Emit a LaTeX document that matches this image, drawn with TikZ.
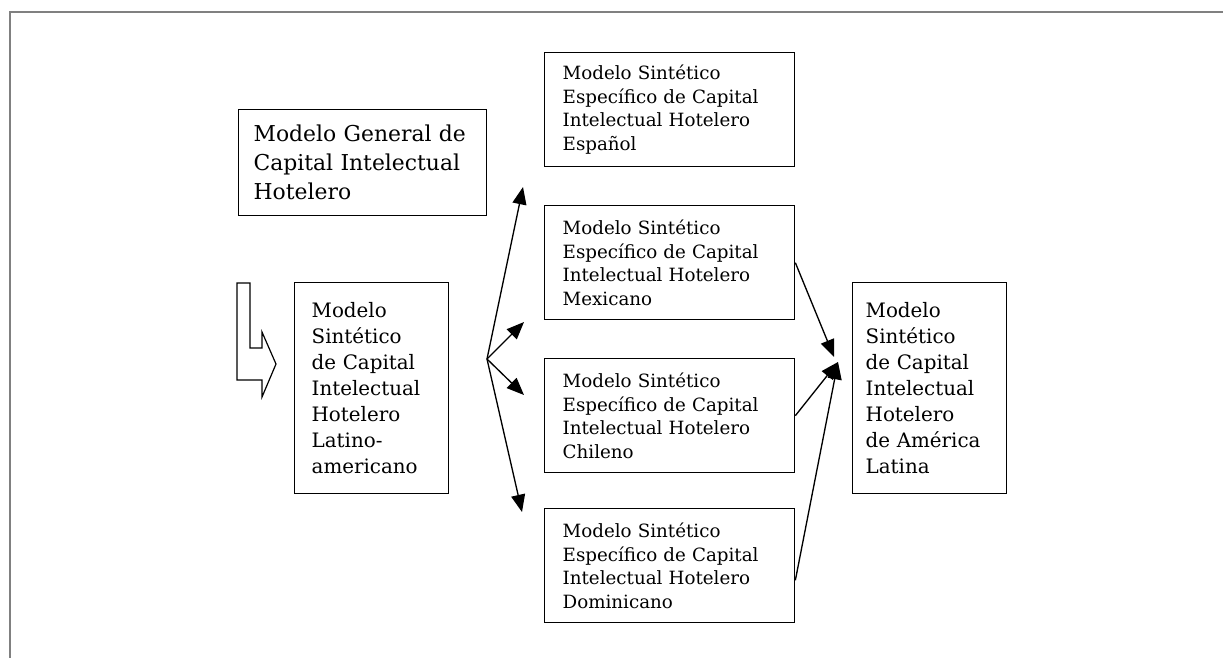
\documentclass[tikz,border=0pt]{standalone}
\usepackage{fontspec}
\setmainfont{DejaVu Serif}
\usetikzlibrary{arrows.meta}

\begin{document}
\begin{tikzpicture}[x=0.75pt,y=-0.75pt,
  caja/.style={draw,line width=1pt,rectangle,anchor=north west,align=left,inner ysep=0pt},
  chica/.style={caja,font=\fontsize{13.7}{17.6}\selectfont,minimum width=187.5pt,minimum height=85.5pt,inner xsep=13.5pt,text width=160.5pt},
  alta/.style={caja,font=\fontsize{14.9}{19.5}\selectfont,minimum width=115.5pt,minimum height=158.25pt},
  grande/.style={caja,font=\fontsize{16.4}{21.75}\selectfont,minimum width=186pt,minimum height=79.5pt,inner xsep=11.25pt,text width=163.5pt},
  flecha/.style={-{Triangle[length=13pt,width=10.5pt]},line width=1pt}]
  \useasboundingbox (0,0) rectangle (1223,658);
  % marco
  \draw[gray,line width=1.5pt] (1223,11.5) -- (10,11.5) -- (10,658);

  \node[grande] (general) at (238,109) {Modelo General de\\Capital Intelectual\\Hotelero};
  \node[alta,inner xsep=12.75pt,text width=90pt] (latino) at (294,282)
    {Modelo\\Sintético\\de Capital\\Intelectual\\Hotelero\\Latino-\\americano};
  \node[alta,inner xsep=9.75pt,text width=96pt] (america) at (852,282)
    {Modelo\\Sintético\\de Capital\\Intelectual\\Hotelero\\de América\\Latina};
  \foreach \n/\y/\pais in {esp/52/Español,mex/205/Mexicano,chi/358/Chileno,dom/508/Dominicano} {
      \node[chica] (\n) at (544,\y) {Modelo Sintético\\Específico de Capital\\Intelectual Hotelero\\\pais};
  }

  % flecha hueca
  \draw[line width=0.9pt,line join=miter] (237,283) -- (250,283) -- (250,348) -- (262,348) -- (262,332)
    -- (276,364) -- (262,397) -- (262,380) -- (237,380) -- cycle;

  % abanico
  \coordinate (fan) at (487,359);
  \coordinate (t1) at (523,187);
  \coordinate (t2) at (524,322);
  \coordinate (t3) at (524,395);
  \coordinate (t4) at (522,512);
  \foreach \t in {t1,t2,t3,t4} {
      \draw[flecha] (fan) -- (\t);
  }

  % convergencia
  \coordinate (c1) at (834,357);
  \coordinate (c2) at (838,362);
  \draw[flecha] (mex.east) -- (c1);
  \draw[flecha] (chi.east) -- (c2);
  \draw[flecha] ([yshift=-11pt]dom.east) -- (c2);
\end{tikzpicture}
\end{document}
